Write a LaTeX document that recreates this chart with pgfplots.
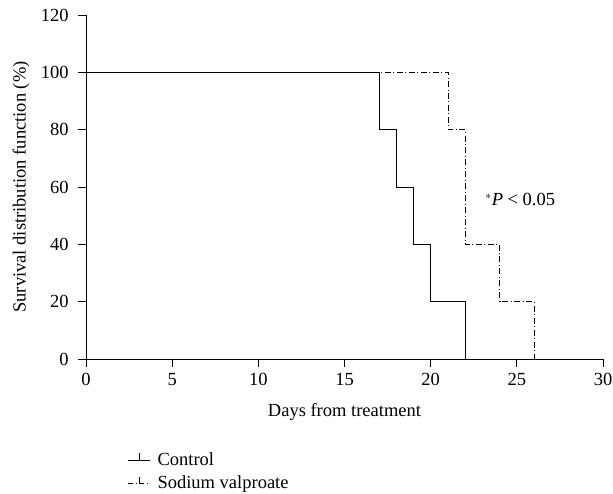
\documentclass[border=0pt]{standalone}
\usepackage{fontspec}
\setmainfont{Liberation Serif}
\usepackage{pgfplots}
\pgfplotsset{compat=1.18}

\tikzset{dashdotline/.style={dash pattern=on 6pt off 2.5pt on 1pt off 2.5pt}}
\newcommand{\fs}{\fontsize{18.5bp}{22bp}\selectfont}

\begin{document}
\fs
\begin{tikzpicture}
% frame of the reference image (axis box is 517 x 344 at the origin)
\path[use as bounding box] (-86bp,-135bp) rectangle (527bp,359bp);
\begin{axis}[
    at={(0,0)}, anchor=south west,
    scale only axis,
    width=517bp, height=344bp,
    xmin=0, xmax=30, ymin=0, ymax=120,
    xtick={0,5,...,30}, ytick={0,20,...,120},
    axis lines*=left,
    tick align=outside,
    major tick length=8bp,
    tick style={black, line width=0.8pt},
    axis line style={line width=0.8pt},
    every axis plot/.append style={line width=0.8pt},
    /pgf/number format/assume math mode=true,
    tick label style={font=\fs},
    yticklabel style={xshift=-3bp},
    label style={font=\fs},
    xlabel={Days from treatment},
    xlabel style={at={(axis description cs:0.5,-0.154)}, anchor=center},
    ylabel={Survival distribution function (\%)},
    ylabel style={at={(axis description cs:-0.1257,0.5)}, anchor=center},
    clip=false,
    legend cell align=left,
    legend style={draw=none, fill=none, at={(axis description cs:0.081,-0.265)},
        anchor=north west, font=\fs, row sep=4bp, inner sep=0pt},
]
\addplot[const plot, dashdotline, forget plot] coordinates {
    (0,100) (21,80) (22,40) (24,20) (26,0)};
\addplot[const plot, solid, forget plot] coordinates {
    (0,100) (17,80) (18,60) (19,40) (20,20) (22,0)};
\addlegendimage{legend image code/.code={
    \draw[solid, line width=0.8pt] (0bp,0bp) -- (22bp,0bp);
    \draw[solid, line width=0.8pt] (11bp,0bp) -- (11bp,7bp);
    \path[draw=none] (27bp,0bp) circle (0.1bp);}}
\addlegendimage{legend image code/.code={
    \draw[line width=0.8pt, dash pattern=on 5bp off 2.5bp on 1bp off 2.5bp] (0bp,0bp) -- (22bp,0bp);
    \draw[solid, line width=0.8pt] (11bp,0bp) -- (11bp,7bp);
    \path[draw=none] (27bp,0bp) circle (0.1bp);}}
\legend{Control, Sodium valproate}
\node[anchor=west] at (axis cs:22.8,55.5) {$^{*}$\textit{P} < 0.05};
\end{axis}
\end{tikzpicture}
\end{document}
